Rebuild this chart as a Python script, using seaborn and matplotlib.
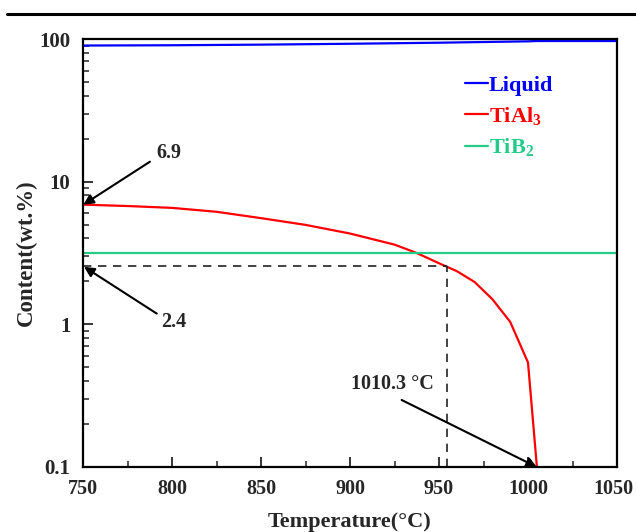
import numpy as np
import pandas as pd
import matplotlib
matplotlib.use("Agg")
import matplotlib.pyplot as plt
import matplotlib.transforms as mtransforms
import seaborn as sns
from matplotlib.lines import Line2D
from matplotlib.ticker import FixedLocator, LogLocator, NullFormatter, MultipleLocator

# ---- data ----
liquid_T = [750, 800, 850, 900, 950, 1000, 1005, 1050]
liquid_v = [90.0, 90.4, 91.3, 92.6, 94.2, 96.3, 96.8, 96.8]

tial3_T = [750, 775, 800, 825, 850, 875, 900, 925, 937, 950, 960, 970, 980, 990, 1000, 1005]
tial3_v = [6.9, 6.75, 6.55, 6.15, 5.55, 4.98, 4.33, 3.62, 3.18, 2.68, 2.36, 1.98, 1.50, 1.04, 0.54, 0.10]

tib2_T = [750, 1050]
tib2_v = [3.15, 3.15]

series_names = ["Liquid", r"TiAl$_3$", r"TiB$_2$"]
series_colors = ["#0000FF", "#FF0000", "#22CC88"]

guide_T = 954.3
guide_v = 2.57

ann_labels = ["6.9", "2.4", "1010.3 °C"]
ann_tips = [(750.2, 6.9), (750.6, 2.53), (1004.9, 0.1)]
ann_tails = [(787.6, 13.8), (791.4, 1.19), (929.0, 0.295)]
ann_texts = [(798, 15.9), (801, 1.04), (924, 0.38)]

yticks = [0.1, 1, 10, 100]
ytick_labels = ["0.1", "1", "10", "100"]
xticks = [750, 800, 850, 900, 950, 1000, 1050]

# ---- style ----
sns.set_style("ticks")
plt.rcParams["font.family"] = ["Liberation Serif", "DejaVu Serif"]
plt.rcParams["font.weight"] = "bold"
plt.rcParams["mathtext.fontset"] = "custom"
plt.rcParams["mathtext.rm"] = "Liberation Serif:bold"
plt.rcParams["mathtext.bf"] = "Liberation Serif:bold"
plt.rcParams["mathtext.it"] = "Liberation Serif:bold"
plt.rcParams["mathtext.default"] = "bf"

df = pd.concat([
    pd.DataFrame({"T": liquid_T, "v": liquid_v, "phase": series_names[0]}),
    pd.DataFrame({"T": tial3_T, "v": tial3_v, "phase": series_names[1]}),
    pd.DataFrame({"T": tib2_T, "v": tib2_v, "phase": series_names[2]}),
])

fig = plt.figure(figsize=(6.36, 5.32), dpi=100)
ax = fig.add_axes([83/636, 1-467/532, (617-83)/636, (467-39)/532])

sns.lineplot(data=df, x="T", y="v", hue="phase", hue_order=series_names,
             palette=series_colors, linewidth=1.6, ax=ax, legend=False,
             estimator=None, sort=False)

ax.set_yscale("log")
ax.set_xlim(750, 1050)
ax.set_ylim(0.1, 100)

# guide dashed lines
ax.plot([750, guide_T], [guide_v, guide_v], ls=(0, (5, 4)), color="#222222", lw=1.2)
ax.plot([guide_T, guide_T], [0.1, guide_v], ls=(0, (5, 4)), color="#222222", lw=1.2)

# annotations
for lab, tip, tail, txt in zip(ann_labels, ann_tips, ann_tails, ann_texts):
    ax.annotate("", xy=tip, xytext=tail,
                arrowprops=dict(arrowstyle="-|>", color="black", lw=1.5,
                                mutation_scale=15, shrinkA=0, shrinkB=0))
    ax.text(txt[0], txt[1], lab, ha="center", va="center",
            fontsize=14.5, fontweight="bold")

# ticks
ax.yaxis.set_major_locator(FixedLocator(yticks))
ax.set_yticklabels(ytick_labels)
ax.yaxis.set_minor_locator(LogLocator(base=10, subs=np.arange(2, 10)))
ax.yaxis.set_minor_formatter(NullFormatter())
ax.set_xticks(xticks)
ax.xaxis.set_minor_locator(MultipleLocator(25))
ax.tick_params(which="major", direction="in", length=7, width=1.3,
               labelsize=15, top=False, right=False)
ax.tick_params(axis="x", which="major", pad=9, labelsize=14.5)
ax.tick_params(axis="y", which="major", pad=9)
ax.tick_params(which="minor", direction="in", length=4, width=1.1,
               top=False, right=False)
for lbl in ax.get_xticklabels() + ax.get_yticklabels():
    lbl.set_fontweight("bold")
# nudge the last x tick label so it stays inside the canvas
last = ax.get_xticklabels()[-1]
last.set_transform(last.get_transform() +
                   mtransforms.ScaledTranslation(-4/100, 0, fig.dpi_scale_trans))
for s in ax.spines.values():
    s.set_linewidth(1.6)
    s.set_color("black")

ax.set_xlabel("Temperature(°C)", fontsize=16, fontweight="bold", labelpad=9)
ax.set_ylabel("Content(wt.%)", fontsize=16.5, fontweight="bold", labelpad=2)

# legend
handles = [Line2D([0], [0], color=c, lw=1.6) for c in series_colors]
leg = ax.legend(handles, series_names, loc="upper left",
                bbox_to_anchor=(0.677, 0.962), frameon=False,
                handlelength=1.05, handletextpad=0.05, labelspacing=0.42,
                prop={"size": 16, "weight": "bold"}, labelcolor="linecolor")

# top rule across the figure
fig.add_artist(Line2D([7/636, 1.0], [1-14/532, 1-14/532], color="black",
                      lw=2.2, transform=fig.transFigure))

fig.savefig("out.png", dpi=100)
